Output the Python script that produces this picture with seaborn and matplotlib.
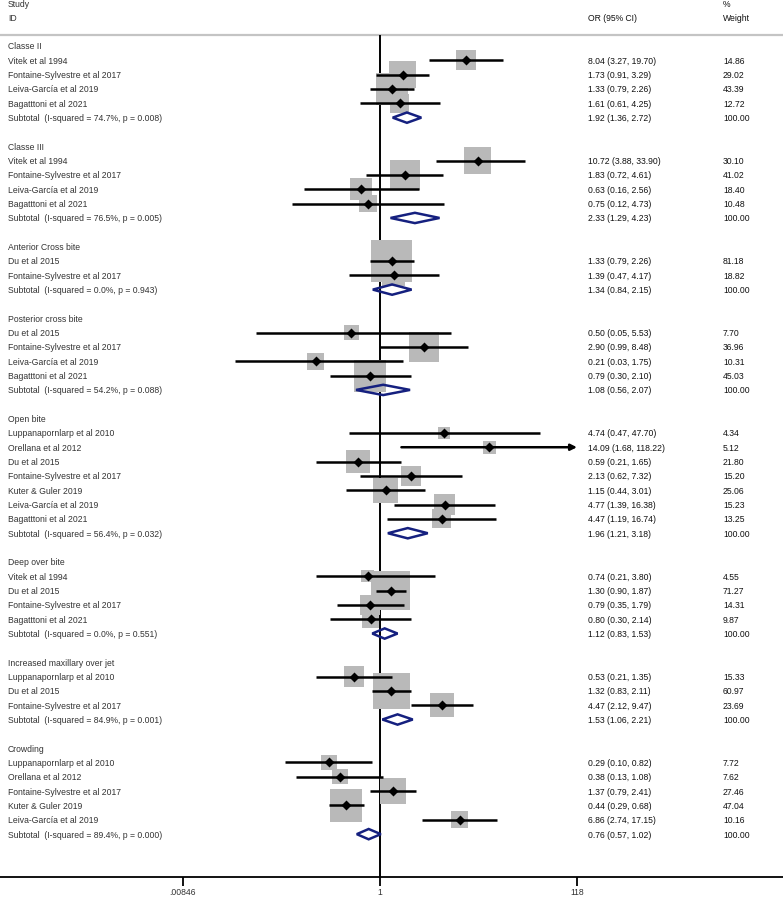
import matplotlib
matplotlib.use("Agg")
import matplotlib.pyplot as plt
from matplotlib.patches import Polygon
import numpy as np
import pandas as pd
import seaborn as sns

group_names = ["Classe II", "Classe III", "Anterior Cross bite", "Posterior cross bite",
               "Open bite", "Deep over bite", "Increased maxillary over jet", "Crowding"]

study_group = [0, 0, 0, 0, 1, 1, 1, 1, 2, 2, 3, 3, 3, 3, 4, 4, 4, 4, 4, 4, 4,
               5, 5, 5, 5, 6, 6, 6, 7, 7, 7, 7, 7]
study_names = [
    "Vitek et al 1994", "Fontaine-Sylvestre et al 2017", "Leiva-García et al 2019", "Bagatttoni et al 2021",
    "Vitek et al 1994", "Fontaine-Sylvestre et al 2017", "Leiva-García et al 2019", "Bagatttoni et al 2021",
    "Du et al 2015", "Fontaine-Sylvestre et al 2017",
    "Du et al 2015", "Fontaine-Sylvestre et al 2017", "Leiva-García et al 2019", "Bagatttoni et al 2021",
    "Luppanapornlarp et al 2010", "Orellana et al 2012", "Du et al 2015", "Fontaine-Sylvestre et al 2017",
    "Kuter & Guler 2019", "Leiva-García et al 2019", "Bagatttoni et al 2021",
    "Vitek et al 1994", "Du et al 2015", "Fontaine-Sylvestre et al 2017", "Bagatttoni et al 2021",
    "Luppanapornlarp et al 2010", "Du et al 2015", "Fontaine-Sylvestre et al 2017",
    "Luppanapornlarp et al 2010", "Orellana et al 2012", "Fontaine-Sylvestre et al 2017",
    "Kuter & Guler 2019", "Leiva-García et al 2019",
]
or_est = [8.04, 1.73, 1.33, 1.61, 10.72, 1.83, 0.63, 0.75, 1.33, 1.39, 0.50, 2.90, 0.21, 0.79,
          4.74, 14.09, 0.59, 2.13, 1.15, 4.77, 4.47, 0.74, 1.30, 0.79, 0.80, 0.53, 1.32, 4.47,
          0.29, 0.38, 1.37, 0.44, 6.86]
ci_low = [3.27, 0.91, 0.79, 0.61, 3.88, 0.72, 0.16, 0.12, 0.79, 0.47, 0.05, 0.99, 0.03, 0.30,
          0.47, 1.68, 0.21, 0.62, 0.44, 1.39, 1.19, 0.21, 0.90, 0.35, 0.30, 0.21, 0.83, 2.12,
          0.10, 0.13, 0.79, 0.29, 2.74]
ci_high = [19.70, 3.29, 2.26, 4.25, 33.90, 4.61, 2.56, 4.73, 2.26, 4.17, 5.53, 8.48, 1.75, 2.10,
           47.70, 118.22, 1.65, 7.32, 3.01, 16.38, 16.74, 3.80, 1.87, 1.79, 2.14, 1.35, 2.11, 9.47,
           0.82, 1.08, 2.41, 0.68, 17.15]
weights = [14.86, 29.02, 43.39, 12.72, 30.10, 41.02, 18.40, 10.48, 81.18, 18.82, 7.70, 36.96,
           10.31, 45.03, 4.34, 5.12, 21.80, 15.20, 25.06, 15.23, 13.25, 4.55, 71.27, 14.31, 9.87,
           15.33, 60.97, 23.69, 7.72, 7.62, 27.46, 47.04, 10.16]

sub_or = [1.92, 2.33, 1.34, 1.08, 1.96, 1.12, 1.53, 0.76]
sub_low = [1.36, 1.29, 0.84, 0.56, 1.21, 0.83, 1.06, 0.57]
sub_high = [2.72, 4.23, 2.15, 2.07, 3.18, 1.53, 2.21, 1.02]
sub_i2 = [74.7, 76.5, 0.0, 54.2, 56.4, 0.0, 84.9, 89.4]
sub_p = [0.008, 0.005, 0.943, 0.088, 0.032, 0.551, 0.001, 0.000]

tick_values = [0.00846, 1, 118]
tick_labels = [".00846", "1", "118"]

# row layout: header, studies, subtotal, blank line
rows = []
subs = []
r = 0
for g, name in enumerate(group_names):
    rows.append(dict(kind="group", row=r, label=name))
    r += 1
    for i in [k for k, gg in enumerate(study_group) if gg == g]:
        rows.append(dict(kind="study", row=r, label=study_names[i], est=or_est[i],
                         lo=ci_low[i], hi=ci_high[i], w=weights[i]))
        r += 1
    subs.append(dict(row=r, est=sub_or[g], lo=sub_low[g], hi=sub_high[g]))
    rows.append(dict(kind="sub", row=r, est=sub_or[g], lo=sub_low[g], hi=sub_high[g], w=100.0,
                     label=f"Subtotal  (I-squared = {sub_i2[g]:.1f}%, p = {sub_p[g]:.3f})"))
    r += 2
df = pd.DataFrame(rows)
studies = df[df.kind == "study"].copy()
# box area grows a little slower than the weight in the original
studies["box"] = studies.w ** 0.84

sns.set_theme(style="white")
plt.rcParams["font.family"] = ["Liberation Sans", "DejaVu Sans"]

W, H = 783, 903
fig = plt.figure(figsize=(W / 100, H / 100), dpi=100)
ax = fig.add_axes([0, 0, 1, 1])

# pixel mapping: x=1 at 380 px, 95.07 px per decade; row 0 at 47 px, 14.33 px per row
ppd = 95.07
ax.set_xscale("log")
ax.set_xlim(10 ** (-380 / ppd), 10 ** ((W - 380) / ppd))
rs = 14.33
ax.set_ylim((H - 47) / rs, -47 / rs)
header_row = (36 - 47) / rs
axis_row = (878 - 47) / rs

ax.axhline(header_row, color="#c4c4c4", lw=1.6, zorder=1)
ax.vlines(1, header_row, axis_row, color="black", lw=1.4, zorder=1)

# weighted boxes
bmin, bmax = studies.box.min(), studies.box.max()
k = 21.8
sns.scatterplot(data=studies, x="est", y="row", size="box", sizes=(k * bmin, k * bmax),
                size_norm=(bmin, bmax), marker="s", color="#b9b9b9", linewidth=0,
                legend=False, ax=ax, zorder=2)

# confidence intervals
xmax = tick_values[-1]
for _, s in studies.iterrows():
    if s.hi > xmax:
        ax.annotate("", xy=(xmax, s.row), xytext=(s.lo, s.row),
                    arrowprops=dict(arrowstyle="-|>", lw=1.8, color="black",
                                    mutation_scale=9, shrinkA=0, shrinkB=0), zorder=3)
    else:
        ax.hlines(s.row, s.lo, s.hi, color="black", lw=1.8, zorder=3)

sns.scatterplot(data=studies, x="est", y="row", marker="D", s=26, color="black",
                linewidth=0, legend=False, ax=ax, zorder=4)

# subtotal diamonds
hh = 0.36
for s in subs:
    poly = Polygon([(s["lo"], s["row"]), (s["est"], s["row"] - hh), (s["hi"], s["row"]),
                    (s["est"], s["row"] + hh)], closed=True, fill=False,
                   edgecolor="#15207f", lw=1.8, zorder=4)
    ax.add_patch(poly)

# axis styling (after seaborn, which sets its own labels)
ax.set_xlabel("")
ax.set_ylabel("")
for s in ["top", "left", "right"]:
    ax.spines[s].set_visible(False)
ax.spines["bottom"].set_position(("data", axis_row))
ax.spines["bottom"].set_linewidth(1.3)
ax.spines["bottom"].set_color("black")
ax.set_xticks(tick_values)
ax.set_xticklabels(tick_labels)
ax.minorticks_off()
ax.tick_params(axis="x", direction="out", length=6.5, width=1.3, color="black",
               labelsize=6.2, labelcolor="#333333", pad=1, bottom=True)
ax.set_yticks([])
ax.grid(False)

# text columns
tr = ax.get_yaxis_transform()
x_lab, x_or, x_w = 8 / W, 588 / W, 723 / W
fs = 6.2
ax.text(x_lab, (5 - 47) / rs, "Study", transform=tr, fontsize=fs, color="#333333", va="center")
ax.text(x_lab, (19 - 47) / rs, "ID", transform=tr, fontsize=fs, color="#333333", va="center")
ax.text(x_or, (19 - 47) / rs, "OR (95% CI)", transform=tr, fontsize=fs, color="#111111", va="center")
ax.text(x_w, (5 - 47) / rs, "%", transform=tr, fontsize=fs, color="#111111", va="center")
ax.text(x_w, (19 - 47) / rs, "Weight", transform=tr, fontsize=fs, color="#111111", va="center")

for _, row in df.iterrows():
    ax.text(x_lab, row.row, row.label, transform=tr, fontsize=fs, color="#333333", va="center")
    if row.kind != "group":
        ax.text(x_or, row.row, f"{row.est:.2f} ({row.lo:.2f}, {row.hi:.2f})", transform=tr,
                fontsize=fs, color="#111111", va="center")
        ax.text(x_w, row.row, f"{row.w:.2f}", transform=tr, fontsize=fs, color="#111111",
                va="center")

fig.savefig("out.png", dpi=100)
